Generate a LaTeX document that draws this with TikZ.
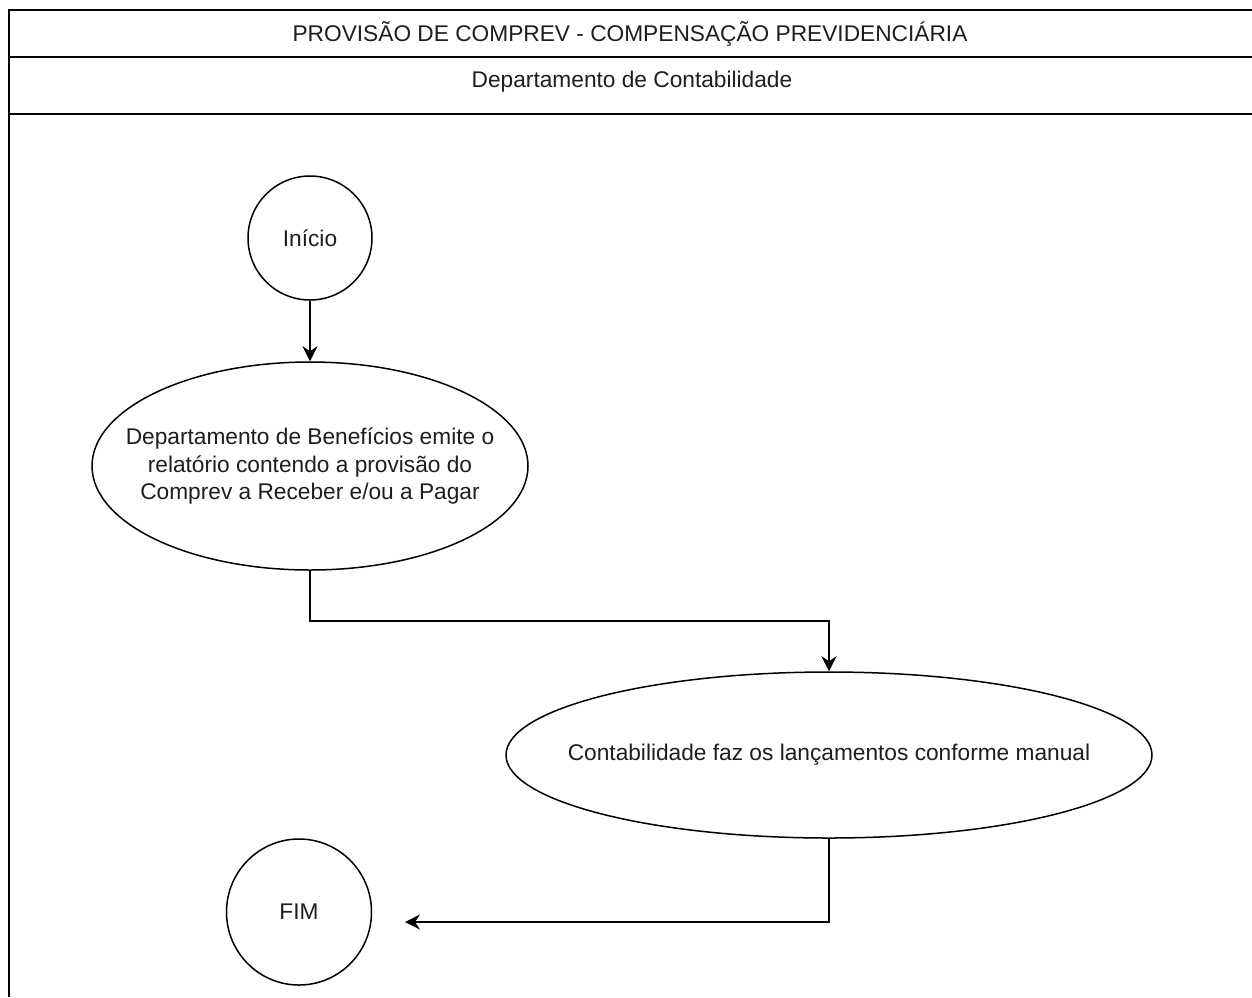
\documentclass[tikz,border=0pt]{standalone}
\usepackage{fontspec}
\setmainfont{Liberation Sans}
\usetikzlibrary{shapes.geometric,arrows.meta}
\definecolor{ink}{RGB}{30,30,30}
\begin{document}
\begin{tikzpicture}[x=1pt,y=-1pt,
  lane/.style={draw=black,line width=1.5pt},
  lbl/.style={font=\fontsize{22.7}{27.5}\selectfont,text=ink,align=center,inner sep=0pt},
  bubble/.style={draw=black,line width=1.5pt,ellipse,inner sep=0pt,fill=white},
  arr/.style={draw=black,line width=1.5pt,-{Stealth[length=15pt,width=15pt,inset=5pt]}}]
\useasboundingbox (0,0) rectangle (1252,997);
\fill[white] (0,0) rectangle (1252,997);

% pool and lane frame
\draw[lane] (9,997) -- (9,10) -- (1252,10);
\draw[lane] (9,57) -- (1252,57);
\draw[lane] (9,114) -- (1252,114);
\node[lbl] (title) at (630,34) {PROVISÃO DE COMPREV - COMPENSAÇÃO PREVIDENCIÁRIA};
\node[lbl] (dept) at (632,82) {Departamento de Contabilidade};

% flow shapes (outlines sized explicitly, labels set on top)
\node[bubble,minimum width=124pt,minimum height=124pt] (ini) at (310,238) {};
\node[lbl] (initxt) at (ini) {Início};
\node[bubble,minimum width=436pt,minimum height=208pt] (e1) at (310,466) {};
\node[lbl] (e1txt) at (e1)
  {Departamento de Benefícios emite o\\relatório contendo a provisão do\\Comprev a Receber e/ou a Pagar};
\node[bubble,minimum width=646pt,minimum height=166pt] (e2) at (829,755) {};
\node[lbl] (e2txt) at (e2) {Contabilidade faz os lançamentos conforme manual};
\node[bubble,minimum width=145pt,minimum height=146pt] (fim) at (299,912) {};
\node[lbl] (fimtxt) at (fim) {FIM};

\coordinate (k1) at (829,621);
\coordinate (fimend) at (405,922);

\draw[arr] (ini.south) -- (e1.north);
\draw[arr] (e1.south) |- (k1) -- (e2.north);
\draw[arr] (e2.south) |- (fimend);
\end{tikzpicture}
\end{document}
